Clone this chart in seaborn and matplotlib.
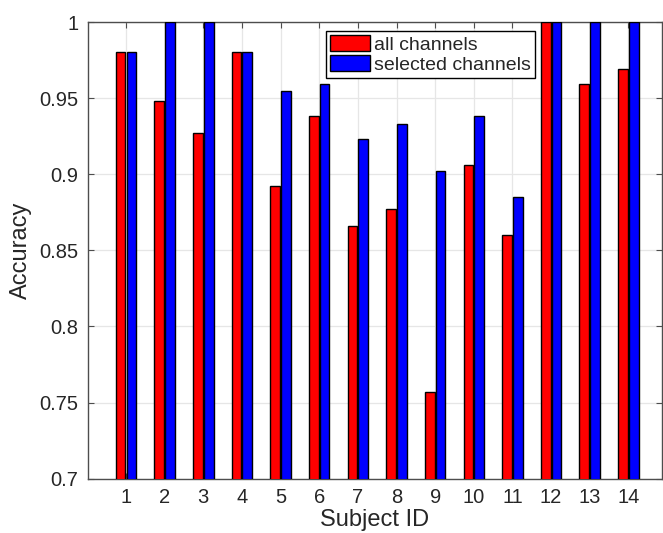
import numpy as np
import matplotlib
matplotlib.use("Agg")
import matplotlib.pyplot as plt
import pandas as pd
import seaborn as sns

subjects = [str(i) for i in range(1, 15)]
all_channels = [0.980, 0.948, 0.927, 0.980, 0.892, 0.938, 0.866, 0.877,
                0.757, 0.906, 0.860, 1.000, 0.959, 0.969]
selected_channels = [0.980, 1.000, 1.000, 0.980, 0.955, 0.959, 0.923, 0.933,
                     0.902, 0.938, 0.885, 1.000, 1.000, 1.000]
series_names = ["all channels", "selected channels"]
y_ticks = [0.7, 0.75, 0.8, 0.85, 0.9, 0.95, 1.0]
y_tick_labels = ["0.7", "0.75", "0.8", "0.85", "0.9", "0.95", "1"]


def main():
    df = pd.DataFrame({
        "Subject ID": subjects * 2,
        "Accuracy": all_channels + selected_channels,
        "series": [series_names[0]] * len(subjects) + [series_names[1]] * len(subjects),
    })

    sns.set_theme(style="ticks")
    plt.rcParams["font.family"] = ["Liberation Sans", "DejaVu Sans"]

    fig = plt.figure(figsize=(6.63, 5.33), dpi=100)
    ax = fig.add_axes([88 / 663, 0.1019, 574 / 663, 0.8568])

    sns.barplot(data=df, x="Subject ID", y="Accuracy", hue="series",
                order=subjects, hue_order=series_names,
                palette=["#ff0000", "#0000ff"], width=0.56, gap=0.1,
                edgecolor="black", linewidth=1.0, saturation=1, ax=ax, zorder=3)

    ax.set_ylim(0.7, 1.0)
    ax.set_xlim(-0.983, 13.87)
    ax.set_yticks(y_ticks)
    ax.set_yticklabels(y_tick_labels)

    ax.grid(True, color="#e6e6e6", linewidth=0.9, zorder=0)
    ax.set_axisbelow(True)

    for side in ["left", "right", "top", "bottom"]:
        ax.spines[side].set_visible(True)
        ax.spines[side].set_color("#4d4d4d")
        ax.spines[side].set_linewidth(1.0)

    ax.tick_params(direction="in", length=4, width=0.8, color="#4d4d4d",
                   top=True, right=True, labelsize=14.5, labelcolor="#262626", pad=7)
    ax.set_xlabel("Subject ID", fontsize=17, color="#262626", labelpad=1)
    ax.set_ylabel("Accuracy", fontsize=17, color="#262626", labelpad=5)

    leg = ax.legend(loc="upper left", bbox_to_anchor=(0.4146, 0.98),
                    fontsize=14, frameon=True, fancybox=False, framealpha=1,
                    edgecolor="black", borderpad=0.22, labelspacing=0.08,
                    handlelength=2.05, handleheight=0.85, handletextpad=0.2,
                    borderaxespad=0)
    leg.get_frame().set_linewidth(1.0)
    for t in leg.get_texts():
        t.set_color("#262626")

    fig.savefig("out.png", dpi=100)


if __name__ == "__main__":
    main()
